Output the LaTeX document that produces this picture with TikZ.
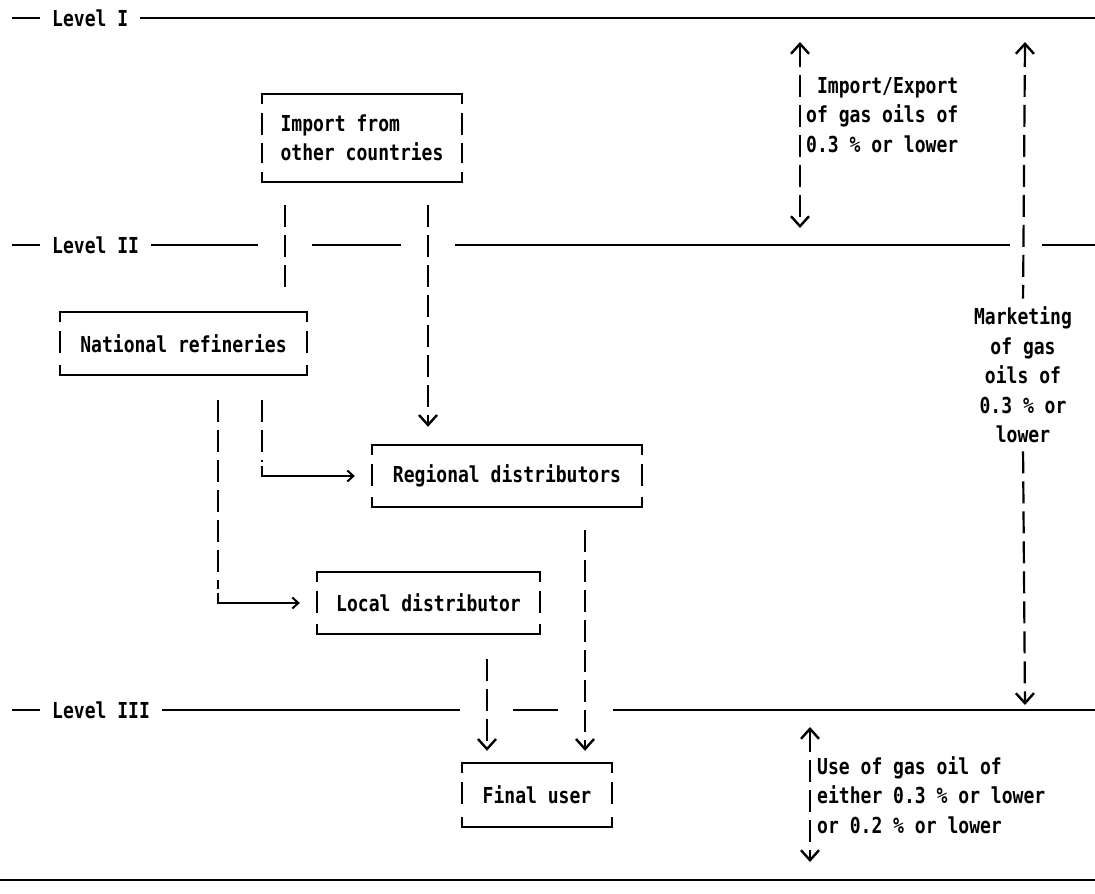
\documentclass[tikz,border=0pt]{standalone}
\usepackage{fontspec}
\setmonofont[FakeStretch=0.82]{DejaVu Sans Mono}
\usepackage{tikz}
\usetikzlibrary{arrows.meta}
\newcommand{\tframe}[1]{%
  \draw[rule] ([yshift=-10pt]#1.north west) -- (#1.north west) -- (#1.north east) -- ([yshift=-10pt]#1.north east);
  \draw[rule] ([yshift=10pt]#1.south west) -- (#1.south west) -- (#1.south east) -- ([yshift=10pt]#1.south east);
  \draw[vbar] ([yshift=-19pt]#1.north west) -- ([yshift=19pt]#1.south west);
  \draw[vbar] ([yshift=-19pt]#1.north east) -- ([yshift=19pt]#1.south east);}

\begin{document}
\begin{tikzpicture}[
  x=1pt,y=-1pt,
  font=\ttfamily\bfseries\fontsize{22}{29.5}\selectfont,
  rule/.style={line width=1.8pt},
  vbar/.style={line width=2.2pt,dash pattern=on 22pt off 8pt},
  dnarr/.style={-{Straight Barb[length=10pt,width=18pt,line width=2.4pt]}},
  uparr/.style={{Straight Barb[length=10pt,width=18pt,line width=2.4pt]}-},
  biarr/.style={{Straight Barb[length=10pt,width=18pt,line width=2.4pt]}-{Straight Barb[length=10pt,width=18pt,line width=2.4pt]}},
  harr/.style={-{Straight Barb[length=6pt,width=11pt,line width=2pt]}},
  tbox/.style={inner sep=0pt,minimum height=62pt},
  lvl/.style={inner sep=0pt,anchor=west},
  note/.style={inner sep=0pt,anchor=west,align=left}
]
\useasboundingbox (0,0) rectangle (1095,894);

\node[lvl] (lvI) at (52,18) {Level I};
\node[lvl] (lvII) at (52,245) {Level II};
\node[lvl] (lvIII) at (52,710) {Level III};
\draw[rule] (12,18) -- ([xshift=-12pt]lvI.west);
\draw[rule] ([xshift=12pt]lvI.east) -- (1095,18);
\draw[rule] (12,245) -- ([xshift=-12pt]lvII.west);
\draw[rule] ([xshift=12pt]lvII.east) -- (258,245);
\draw[rule] (312,245) -- (401,245);
\draw[rule] (455,245) -- (1010,245);
\draw[rule] (1042,245) -- (1095,245);
\draw[rule] (12,710) -- ([xshift=-12pt]lvIII.west);
\draw[rule] ([xshift=12pt]lvIII.east) -- (460,710);
\draw[rule] (513,710) -- (558,710);
\draw[rule] (613,710) -- (1095,710);
\draw[line width=2.5pt] (0,880) -- (1095,880);

\node[tbox,minimum width=200pt,minimum height=88pt,align=left] (imp) at (362,138) {Import from\\other countries};
\node[tbox,minimum width=247pt] (nat) at (183.5,343.5) {National refineries};
\node[tbox,minimum width=270pt] (reg) at (507,476) {Regional distributors};
\node[tbox,minimum width=223pt] (loc) at (428.5,603) {Local distributor};
\node[tbox,minimum width=150pt,minimum height=64pt] (fin) at (537,795) {Final user};
\tframe{imp}
\tframe{nat}
\tframe{reg}
\tframe{loc}
\tframe{fin}

\coordinate (xa) at (285,0);
\coordinate (xb) at (428,0);
\coordinate (xc) at (262,0);
\coordinate (xd) at (218,0);
\coordinate (xe) at (487,0);
\coordinate (xf) at (585,0);
\coordinate (kr) at (reg.west -| xc);
\coordinate (kl) at (loc.west -| xd);

\draw[vbar,shorten <=23pt,shorten >=20pt] (imp.south -| xa) -- (nat.north -| xa);
\draw[vbar,dnarr,shorten <=23pt,shorten >=18pt] (imp.south -| xb) -- (reg.north -| xb);
\draw[vbar,shorten <=25pt] (nat.south -| xc) -- ([yshift=14pt]kr);
\draw[rule,harr,shorten >=17pt] ([yshift=10pt]kr) |- (reg.west);
\draw[vbar,shorten <=25pt] (nat.south -| xd) -- ([yshift=14pt]kl);
\draw[rule,harr,shorten >=17pt] ([yshift=10pt]kl) |- (loc.west);
\draw[vbar,dnarr,shorten <=25pt,shorten >=12pt] (loc.south -| xe) -- (fin.north -| xe);
\draw[vbar,dnarr,shorten <=23pt,shorten >=12pt] (reg.south -| xf) -- (fin.north -| xf);

\coordinate (ieTop) at (800,42);
\coordinate (ieBot) at (800,228);
\draw[vbar,biarr] (ieTop) -- (ieBot);
\node[note] (ie) at (806,115) {\phantom{I}Import/Export\\of gas oils of\\0.3 \% or lower};

\coordinate (mkTop) at (1025,42);
\coordinate (mkBot) at (1025,705);
\node[inner sep=0pt,align=center] (mkt) at (1023,375) {Marketing\\of gas\\oils of\\0.3 \% or\\lower};
\draw[vbar,uparr,shorten >=8pt] (mkTop) -- (mkt.north);
\draw[vbar,dnarr,shorten <=8pt] (mkt.south) -- (mkBot);

\coordinate (useTop) at (810,727);
\coordinate (useBot) at (810,862);
\draw[vbar,biarr] (useTop) -- (useBot);
\node[note] (use) at (817,795) {Use of gas oil of\\either 0.3 \% or lower\\or 0.2 \% or lower};
\end{tikzpicture}
\end{document}
